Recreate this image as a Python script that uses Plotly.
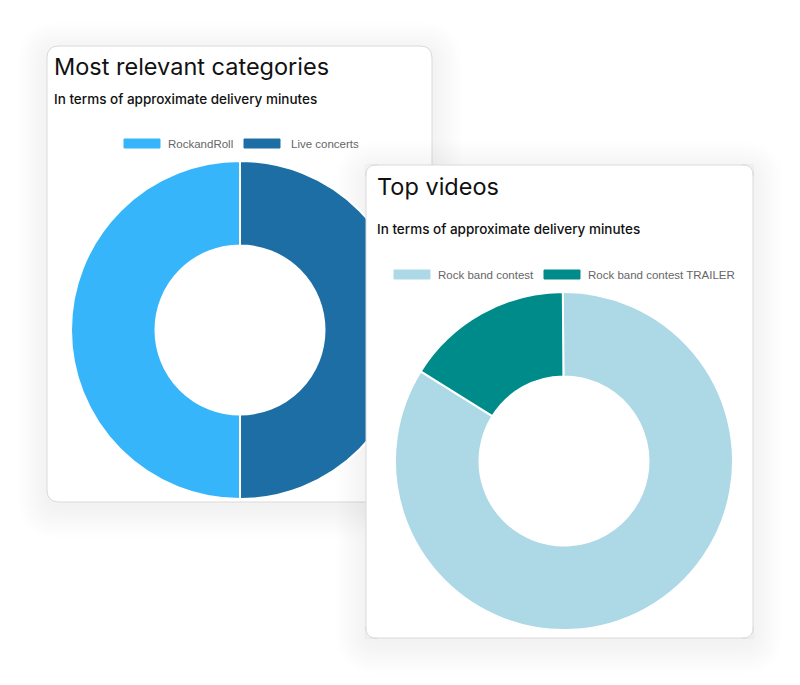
import plotly.graph_objects as go

W, H = 800, 685

# ---- data ----
cat_labels = ["RockandRoll", "Live concerts"]
cat_values = [50, 50]
cat_colors = ["#36B5FA", "#1C6EA4"]

vid_labels = ["Rock band contest", "Rock band contest TRAILER"]
vid_values = [84, 16]
vid_colors = ["#ADD8E6", "#008B8B"]

card1_title = "Most relevant categories"
card2_title = "Top videos"
subtitle = "In terms of approximate delivery minutes"

# ---- helpers (pixel -> paper) ----
def px(x):
    return x / W

def py(y):
    return 1 - y / H

def rrect(x0, y0, x1, y1, r):
    p = []
    p.append(f"M {px(x0 + r)},{py(y0)}")
    p.append(f"L {px(x1 - r)},{py(y0)}")
    p.append(f"Q {px(x1)},{py(y0)} {px(x1)},{py(y0 + r)}")
    p.append(f"L {px(x1)},{py(y1 - r)}")
    p.append(f"Q {px(x1)},{py(y1)} {px(x1 - r)},{py(y1)}")
    p.append(f"L {px(x0 + r)},{py(y1)}")
    p.append(f"Q {px(x0)},{py(y1)} {px(x0)},{py(y1 - r)}")
    p.append(f"L {px(x0)},{py(y0 + r)}")
    p.append(f"Q {px(x0)},{py(y0)} {px(x0 + r)},{py(y0)}")
    p.append("Z")
    return " ".join(p)

shapes = []

def shadow(x0, y0, x1, y1, r):
    for i in range(12, 0, -1):
        d = i * 2.5
        shapes.append(dict(type="path", xref="paper", yref="paper", layer="below",
                           path=rrect(x0 - d, y0 - d + 6, x1 + d, y1 + d + 6, r + d),
                           fillcolor="rgba(0,0,0,0.0055)", line=dict(width=0)))

C1 = (47, 46, 432, 502)
C2 = (366, 165, 753, 638)

shadow(*C1, 12)
shapes.append(dict(type="path", xref="paper", yref="paper", layer="below",
                   path=rrect(*C1, 12), fillcolor="white",
                   line=dict(color="#DADADA", width=1)))
shadow(*C2, 12)

# rounded-corner patches for card 2 (its background is a square treemap tile)
def corner(cx, cy, sx, sy, r, bg):
    # cx,cy: square corner; sx,sy: +1/-1 direction into the card
    a = (cx + sx * r, cy)
    b = (cx, cy + sy * r)
    fill = (f"M {px(cx)},{py(cy)} L {px(a[0])},{py(a[1])} "
            f"Q {px(cx)},{py(cy)} {px(b[0])},{py(b[1])} Z")
    shapes.append(dict(type="path", xref="paper", yref="paper", layer="above",
                       path=fill, fillcolor=bg, line=dict(width=0)))
    arc = f"M {px(a[0])},{py(a[1])} Q {px(cx)},{py(cy)} {px(b[0])},{py(b[1])}"
    shapes.append(dict(type="path", xref="paper", yref="paper", layer="above",
                       path=arc, line=dict(color="#DADADA", width=1)))

R2 = 12
corner(C2[0] - 0.5, C2[1] - 0.5, 1, 1, R2, "#F1F1F1")
corner(C2[2] + 0.5, C2[1] - 0.5, -1, 1, R2, "#F1F1F1")
corner(C2[0] - 0.5, C2[3] + 0.5, 1, -1, R2, "#EFEFEF")
corner(C2[2] + 0.5, C2[3] + 0.5, -1, -1, R2, "#EFEFEF")

fig = go.Figure()

# Card 1 donut
fig.add_trace(go.Pie(
    labels=cat_labels, values=cat_values, hole=0.5, sort=False,
    direction="clockwise", rotation=180,
    marker=dict(colors=cat_colors, line=dict(color="white", width=2)),
    textinfo="none", hoverinfo="skip", showlegend=False,
    domain=dict(x=[px(240 - 169), px(240 + 169)], y=[py(330 + 169), py(330 - 169)]),
))

# Card 2 background (treemap layer sits above pie layer)
fig.add_trace(go.Treemap(
    labels=["card"], parents=[""], values=[1],
    marker=dict(colors=["white"], line=dict(color="#DADADA", width=1),
                cornerradius=12, pad=dict(t=0, l=0, r=0, b=0), depthfade=False),
    pathbar=dict(visible=False), tiling=dict(pad=0),
    textinfo="none", hoverinfo="skip",
    domain=dict(x=[px(C2[0]), px(C2[2])], y=[py(C2[3]), py(C2[1])]),
))

# Card 2 donut (sunburst layer sits above treemap layer)
fig.add_trace(go.Sunburst(
    labels=["root"] + vid_labels,
    parents=[""] + ["root"] * len(vid_labels),
    values=[sum(vid_values)] + vid_values,
    branchvalues="total", sort=False, rotation=148,
    marker=dict(colors=["white"] + vid_colors, line=dict(color="white", width=2)),
    leaf=dict(opacity=1),
    textinfo="none", hoverinfo="skip",
    domain=dict(x=[px(564 - 169), px(564 + 169)], y=[py(461 + 169), py(461 - 169)]),
))

annotations = []

def text(x, y, s, size, color, family, anchor="left", weight="normal"):
    annotations.append(dict(x=px(x), y=py(y), xref="paper", yref="paper", text=s,
                            showarrow=False, xanchor=anchor, yanchor="middle",
                            font=dict(size=size, color=color, family=family, weight=weight)))

TF = "Inter, Roboto, sans-serif"
LF = "Liberation Sans, Arial, sans-serif"

text(52, 66, card1_title, 23.5, "#111111", TF)
text(52, 99, subtitle, 13.5, "#111111", TF, weight=500)
text(375, 187, card2_title, 23.5, "#111111", TF)
text(375, 229, subtitle, 13.5, "#111111", TF, weight=500)

def legend_item(bx, by, color, label, gap=43):
    shapes.append(dict(type="rect", xref="paper", yref="paper", layer="above",
                       x0=px(bx), x1=px(bx + 36), y0=py(by + 9), y1=py(by),
                       fillcolor=color, line=dict(color=color, width=1)))
    text(bx + gap, by + 4.5, label, 11.5, "#666666", LF)

legend_item(124, 139, cat_colors[0], cat_labels[0], 42)
legend_item(244, 139, cat_colors[1], cat_labels[1], 45)
legend_item(394, 270, vid_colors[0], vid_labels[0], 42)
legend_item(544, 270, vid_colors[1], vid_labels[1], 42)

fig.update_layout(
    width=W, height=H, margin=dict(l=0, r=0, t=0, b=0),
    paper_bgcolor="white", plot_bgcolor="white",
    shapes=shapes, annotations=annotations, showlegend=False,
)

fig.write_html("out.html")
